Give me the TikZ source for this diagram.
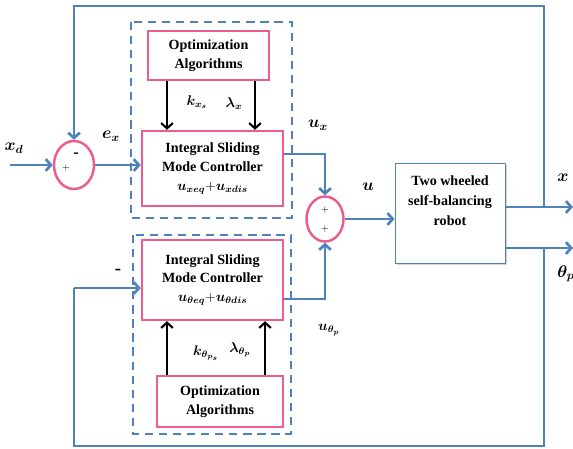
\documentclass[tikz,border=0pt]{standalone}
\usepackage{fontspec}
\setmainfont{Liberation Serif}
\usepackage{amsmath,bm}
\usetikzlibrary{arrows.meta}
\usetikzlibrary{positioning}
\usetikzlibrary{shapes.geometric}
\usetikzlibrary{shadows}

\definecolor{lineblue}{RGB}{79,129,189}
\definecolor{boxpink}{RGB}{236,92,140}

\begin{document}
\begin{tikzpicture}
    [x=0.03cm,y=-0.03cm,
    ctrlbox/.style={rectangle,draw=boxpink,line width=2.1pt,fill=white,align=center,
      font=\bfseries\fontsize{12}{16}\selectfont,inner sep=0pt},
    plantbox/.style={rectangle,draw=lineblue,line width=0.8pt,fill=white,align=center,
      font=\bfseries\fontsize{12}{17}\selectfont,inner sep=0pt,
      drop shadow={shadow xshift=2pt,shadow yshift=-2pt,opacity=0.35}},
    sumnode/.style={ellipse,draw=boxpink,line width=2.1pt,inner sep=0pt},
    groupbox/.style={draw=lineblue,line width=2.4pt,dash pattern=on 7pt off 5pt},
    signal/.style={draw=lineblue,line width=2.3pt,-{Straight Barb[length=4.5pt,width=10pt]}},
    wire/.style={draw=lineblue,line width=2.3pt},
    param/.style={draw=black,line width=1.8pt,-{Straight Barb[length=4.5pt,width=10pt]}},
    sig/.style={font=\fontsize{14}{16}\selectfont},
    gain/.style={font=\fontsize{12}{14}\selectfont},
    sign/.style={font=\fontsize{8}{9}\selectfont,inner sep=0pt}]

    \useasboundingbox (0,0) rectangle (573,448);

    % x branch
    \draw[groupbox] (131,22) rectangle (292,218);
    \node[ctrlbox,minimum width=121*0.03cm,minimum height=49*0.03cm] (optx) at (208.5,55.5) {Optimization\\Algorithms};
    \node[ctrlbox,minimum width=141*0.03cm,minimum height=75*0.03cm] (ismcx) at (212.5,168.5)
      {Integral Sliding\\Mode Controller\\$\bm{u_{xeq}}\mathbf{+}\bm{u_{xdis}}$};

    % theta branch
    \draw[groupbox] (133,235) rectangle (291,434);
    \node[ctrlbox,minimum width=141*0.03cm,minimum height=80*0.03cm] (ismct) at (212.5,280)
      {Integral Sliding\\Mode Controller\\$\bm{u_{\theta eq}}\mathbf{+}\bm{u_{\theta dis}}$};
    \node[ctrlbox,minimum width=126*0.03cm,minimum height=51*0.03cm] (optt) at (220,401.5) {Optimization\\Algorithms};

    % summing points and plant
    \node[sumnode,minimum width=40*0.03cm,minimum height=48*0.03cm] (sum1) at (74,165) {};
    \node[sumnode,minimum width=37*0.03cm,minimum height=45*0.03cm] (sum2) at (325,219) {};
    \node[plantbox,minimum width=110*0.03cm,minimum height=100*0.03cm,text depth=0.75cm] (robot) at (450,213)
      {Two wheeled\\self-balancing\\robot};

    \node[sign,font=\bfseries\fontsize{14}{14}\selectfont] (minus1) at (76,155) {-};
    \node[sign] (plus1) at (66,168) {$+$};
    \node[sign] (plus2a) at (325,210) {$+$};
    \node[sign] (plus2b) at (325,229) {$+$};

    \coordinate (xd)     at (10,165);
    \coordinate (xjoin)  at (544,207);
    \coordinate (thjoin) at (544,248);
    \coordinate (xout)   at (573,207);
    \coordinate (thout)  at (573,248);
    \coordinate (fbtop)  at (300,6);
    \coordinate (fbbot)  at (300,446);
    \coordinate (fbleft) at (74,288);
    \coordinate (kx) at ([xshift=-1.245cm]optx.south);
    \coordinate (lx) at ([xshift=1.395cm]optx.south);
    \coordinate (kt) at ([xshift=-1.59cm]optt.north);
    \coordinate (lt) at ([xshift=1.35cm]optt.north);

    % signals
    \draw[signal] (xd) -- (sum1.west);
    \draw[signal] (sum1.east) -- (sum1.east -| ismcx.west);
    \draw[signal] ([yshift=0.435cm]ismcx.east) -| (sum2.north);
    \draw[signal] ([yshift=-0.57cm]ismct.east) -| (sum2.south);
    \draw[signal] (sum2.east) -- (sum2.east -| robot.west);
    \draw[signal] (robot.east |- xout) -- (xout);
    \draw[signal] (robot.east |- thout) -- (thout);
    \draw[signal] (xjoin) |- (fbtop) -| (sum1.north);
    \draw[wire] (thjoin) |- (fbbot) -| (fbleft);
    \draw[signal] (fbleft) -- (fbleft -| ismct.west);

    \draw[param] (kx) -- (kx |- ismcx.north);
    \draw[param] (lx) -- (lx |- ismcx.north);
    \draw[param] (kt) -- (kt |- ismct.south);
    \draw[param] (lt) -- (lt |- ismct.south);

    % labels
    \node[sig] (xdlab) at (14,148) {$\bm{x_d}$};
    \node[sig] (exlab) at (111,136) {$\bm{e_x}$};
    \node[gain] (kxlab) at (197,102) {$\bm{k_{x_s}}$};
    \node[gain] (lxlab) at (234,104) {$\bm{\lambda_x}$};
    \node[sig] (uxlab) at (318,125) {$\bm{u_x}$};
    \node[sig] (ulab) at (368,187) {$\bm{u}$};
    \node[sig] (xlab) at (563,178) {$\bm{x}$};
    \node[sig] (thlab) at (566,274) {$\bm{\theta_p}$};
    \node[sign,font=\bfseries\fontsize{16}{16}\selectfont] (mlab) at (118,272) {-};
    \node[gain] (ktlab) at (206,353) {$\bm{k_{\theta_{p_s}}}$};
    \node[gain] (ltlab) at (240,350) {$\bm{\lambda_{\theta_p}}$};
    \node[gain] (utlab) at (329,330) {$\bm{u_{\theta_p}}$};

\end{tikzpicture}
\end{document}
